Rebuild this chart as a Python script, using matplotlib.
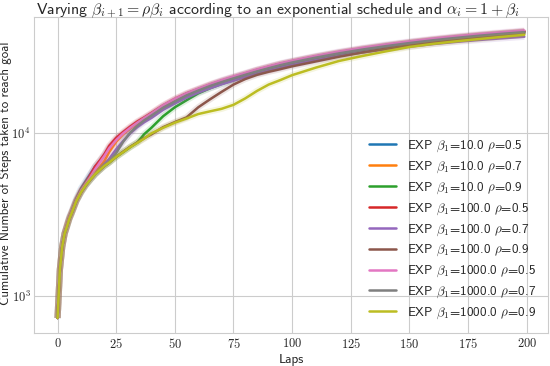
import numpy as np
import matplotlib
matplotlib.use('Agg')
import matplotlib.pyplot as plt
import seaborn as sns
from matplotlib.ticker import FuncFormatter, FixedLocator

laps = [0, 1, 2, 3, 4, 5, 6, 8, 10, 12, 14, 16, 18, 20, 22, 25, 28, 31, 34, 37, 40,
        45, 50, 55, 60, 65, 70, 75, 80, 85, 90, 95, 100, 110, 120, 130, 140, 150,
        160, 170, 180, 190, 199]

# cumulative steps, one list per run
exp_10_05 = [730, 1450, 2000, 2420, 2720, 3050, 3300, 3950, 4550, 5050, 5600, 6200, 6700, 7300, 8100,
             9100, 9900, 10700, 11500, 12200, 13000, 14500, 15900, 17200, 18400, 19600, 20800, 21900,
             23000, 24200, 25300, 26400, 27400, 29300, 31100, 32800, 34400, 35900, 37300, 38600,
             39800, 40900, 41800]
exp_10_07 = [730, 1450, 2000, 2400, 2700, 3000, 3250, 3850, 4400, 4850, 5300, 5750, 6150, 6700, 7600,
             8800, 9800, 10600, 11400, 12100, 12900, 14400, 15800, 17100, 18300, 19500, 20600, 21700,
             22800, 24000, 25100, 26200, 27200, 29100, 30900, 32600, 34200, 35700, 37100, 38400,
             39600, 40700, 41600]
exp_10_09 = [730, 1450, 2000, 2400, 2650, 2950, 3200, 3800, 4300, 4750, 5150, 5550, 5900, 6250, 6550,
             7100, 7600, 8150, 8700, 9800, 10700, 12600, 14300, 15800, 17400, 18700, 19900, 21000,
             22100, 23300, 24400, 25500, 26500, 28500, 30400, 32100, 33700, 35300, 36700, 38000,
             39200, 40300, 41200]
exp_100_05 = [730, 1450, 2000, 2400, 2700, 3000, 3250, 3850, 4400, 4900, 5500, 6200, 6750, 7400, 8300,
              9300, 10100, 10900, 11700, 12400, 13200, 14700, 16100, 17400, 18500, 19700, 20800, 21900,
              23000, 24200, 25300, 26400, 27300, 29200, 31000, 32700, 34200, 35800, 37200, 38500,
              39700, 40800, 41800]
exp_100_07 = [730, 1450, 2000, 2400, 2650, 2950, 3200, 3800, 4300, 4750, 5150, 5550, 5900, 6400, 6900,
              7900, 8900, 9900, 10800, 11600, 12300, 13800, 15100, 16400, 17600, 18700, 19800, 20800,
              21900, 23000, 24000, 25000, 26000, 27800, 29500, 31000, 32400, 33700, 34900, 36000,
              37000, 37900, 38700]
exp_100_09 = [730, 1450, 2000, 2400, 2650, 2950, 3200, 3800, 4300, 4750, 5150, 5550, 5900, 6250, 6550,
              7100, 7650, 8200, 8700, 9250, 9750, 10800, 11600, 12400, 14300, 16000, 17800, 19700,
              21300, 22600, 23600, 24500, 25500, 27300, 29200, 31000, 32700, 34300, 35800, 37200,
              38400, 39500, 40500]
exp_1000_05 = [730, 1450, 2000, 2400, 2700, 3000, 3250, 3850, 4400, 4850, 5350, 5950, 6550, 7200, 8000,
               9000, 9900, 10700, 11500, 12300, 13100, 14700, 16100, 17400, 18600, 19800, 21000, 22100,
               23200, 24400, 25500, 26600, 27600, 29500, 31400, 33100, 34700, 36200, 37700, 39000,
               40200, 41300, 42300]
exp_1000_07 = [730, 1450, 2000, 2400, 2650, 2950, 3200, 3800, 4300, 4750, 5150, 5550, 5900, 6250, 6550,
               7500, 8800, 10000, 11000, 11900, 12700, 14200, 15500, 16900, 18100, 19300, 20400, 21500,
               22600, 23700, 24800, 25900, 26900, 28800, 30600, 32300, 33900, 35400, 36800, 38100,
               39300, 40400, 41300]
exp_1000_09 = [730, 1450, 2000, 2400, 2650, 2950, 3200, 3800, 4300, 4750, 5150, 5550, 5900, 6250, 6550,
               7100, 7600, 8150, 8650, 9200, 9900, 10700, 11500, 12200, 13000, 13500, 14000, 14800,
               16200, 18000, 19700, 21000, 22500, 25000, 27500, 29500, 31500, 33500, 35000, 36300,
               37500, 38700, 39800]

runs = [exp_10_05, exp_10_07, exp_10_09, exp_100_05, exp_100_07, exp_100_09,
        exp_1000_05, exp_1000_07, exp_1000_09]
betas = ['10.0', '10.0', '10.0', '100.0', '100.0', '100.0', '1000.0', '1000.0', '1000.0']
rhos = ['0.5', '0.7', '0.9'] * 3

sns.set_style('whitegrid')
plt.rcParams['font.family'] = 'cmss10'
plt.rcParams['mathtext.fontset'] = 'cm'
plt.rcParams['axes.unicode_minus'] = False
plt.rcParams['axes.formatter.use_mathtext'] = True

fig, ax = plt.subplots(figsize=(5.5, 3.66), dpi=100)
fig.subplots_adjust(left=0.062, right=0.996, bottom=0.09, top=0.953)

colors = plt.get_cmap('tab10').colors
for i, run in enumerate(runs):
    # faint band like the confidence interval
    ax.plot(laps, run, color=colors[i], lw=4.5, alpha=0.15, solid_capstyle='butt')
    ax.plot(laps, run, color=colors[i], lw=1.8,
            label=r'EXP $\beta_1$=' + betas[i] + r' $\rho$=' + rhos[i])

ax.set_yscale('log')
ax.set_xlim(-10, 209)
ax.set_ylim(590, 51000)
ax.xaxis.set_major_locator(FixedLocator([0, 25, 50, 75, 100, 125, 150, 175, 200]))
ax.xaxis.set_major_formatter(FuncFormatter(lambda v, p: r'$%d$' % v))
ax.yaxis.set_major_formatter(FuncFormatter(lambda v, p: r'$10^{%d}$' % round(np.log10(v))))
ax.yaxis.set_minor_formatter(FuncFormatter(lambda v, p: ''))
ax.tick_params(axis='both', which='both', length=0, labelsize=9, pad=2.5)

ax.set_title(r'Varying $\beta_{i+1} = \rho\beta_i$ according to an exponential schedule and $\alpha_i = 1 + \beta_i$',
             fontsize=11.4, pad=2, x=0.475)
ax.set_xlabel('Laps', fontsize=9.5)
ax.set_ylabel('Cumulative Number of Steps taken to reach goal', fontsize=9.3)
ax.xaxis.set_label_coords(0.5, -0.066)
ax.yaxis.set_label_coords(-0.043, 0.505)

ax.legend(loc='lower right', frameon=False, fontsize=9.5, handlelength=2.1,
          labelspacing=0.42, borderaxespad=0.5)

plt.savefig('out.png', dpi=100)
